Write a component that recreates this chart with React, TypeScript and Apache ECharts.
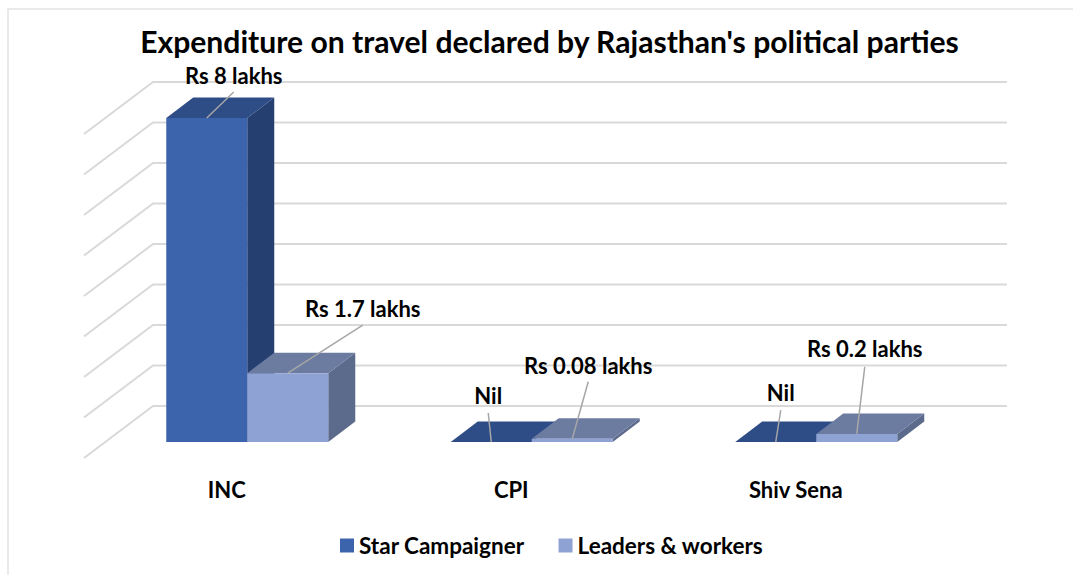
import React, { useEffect, useRef } from "react";
import * as echarts from "echarts";

const titleText = "Expenditure on travel declared by Rajasthan's political parties";
const categories = ["INC", "CPI", "Shiv Sena"];
const starCampaigner = [8, 0, 0];
const leadersWorkers = [1.7, 0.08, 0.2];
const starLabels = ["Rs 8 lakhs", "Nil", "Nil"];
const leadersLabels = ["Rs 1.7 lakhs", "Rs 0.08 lakhs", "Rs 0.2 lakhs"];
const gridTicks = [0, 1, 2, 3, 4, 5, 6, 7, 8];

// layout only
const barW = 81;
const depthX = 27;
const depthY = 20.5;
const starLeader = [[27, -26, -17], [-3, -29, -18], [5, -32, -18]];
const leadersLeader = [[75, -48, -17], [16, -57, -16], [8, -67, -18]];

const font = "Lato, Carlito, 'Open Sans', sans-serif";

function boxSeries(
  name: string,
  values: number[],
  labels: string[],
  leaders: number[][],
  side: -1 | 1,
  front: string,
  top: string,
  right: string
) {
  return {
    type: "custom",
    name,
    coordinateSystem: "cartesian2d",
    itemStyle: { color: front },
    z: 3,
    clip: false,
    data: values.map((v, i) => [i, v]),
    renderItem: (params: any, api: any) => {
      const i = api.value(0);
      const base = api.coord([i, 0]);
      const peak = api.coord([i, api.value(1)]);
      const x0 = base[0] + (side < 0 ? -barW : 0);
      const x1 = x0 + barW;
      const yb = base[1];
      const yt = peak[1];
      const children: any[] = [
        { type: "polygon", shape: { points: [[x1, yb], [x1 + depthX, yb - depthY], [x1 + depthX, yt - depthY], [x1, yt]] }, style: { fill: right } },
        { type: "polygon", shape: { points: [[x0, yt], [x0 + depthX, yt - depthY], [x1 + depthX, yt - depthY], [x1, yt]] }, style: { fill: top } },
      ];
      if (yb - yt > 0.01) {
        children.push({ type: "rect", shape: { x: x0, y: yt, width: barW, height: yb - yt }, style: { fill: front } });
      }
      const cx = (x0 + x1) / 2;
      const [dx, dy, ty] = leaders[i];
      children.push({
        type: "line",
        shape: { x1: cx, y1: yt, x2: cx + dx, y2: yt + dy },
        style: { stroke: "#A6A6A6", lineWidth: 1.5 },
      });
      children.push({
        type: "text",
        style: {
          x: cx + dx,
          y: yt + dy + ty,
          text: labels[i],
          fill: "#000000",
          font: `bold 22px ${font}`,
          align: "center",
          verticalAlign: "middle",
        },
      });
      return { type: "group", children };
    },
  };
}

export default function App() {
  const ref = useRef<HTMLDivElement>(null);
  useEffect(() => {
    const chart = echarts.init(ref.current!, undefined, { renderer: "svg" });
    chart.setOption({
      animation: false,
      backgroundColor: "#ffffff",
      graphic: [
        {
          type: "polyline",
          silent: true,
          shape: { points: [[8, 575], [8, 9], [1073, 9]] },
          style: { stroke: "#E4E4E4", lineWidth: 1.5, fill: "none" },
        },
      ],
      title: {
        text: titleText,
        left: 544.5,
        top: 21,
        textAlign: "center",
        textStyle: { fontFamily: font, fontWeight: "bold", fontSize: 30.1, color: "#000000" },
      },
      legend: {
        data: ["Star Campaigner", "Leaders & workers"],
        left: 335,
        top: 529,
        icon: "rect",
        itemWidth: 14,
        itemHeight: 14,
        itemGap: 34,
        textStyle: { fontFamily: font, fontWeight: "bold", fontSize: 22.5, color: "#000000" },
      },
      grid: { left: 105, width: 853.5, top: 118, height: 324 },
      xAxis: {
        type: "category",
        data: categories,
        axisLine: { show: false },
        axisTick: { show: false },
        axisLabel: {
          fontFamily: font,
          fontWeight: "bold",
          fontSize: 22,
          color: "#000000",
          margin: 36,
          padding: [0, 41, 0, 0],
        },
      },
      yAxis: {
        type: "value",
        min: 0,
        max: 8,
        interval: 1,
        axisLabel: { show: false },
        axisLine: { show: false },
        axisTick: { show: false },
        splitLine: { show: false },
      },
      series: [
        {
          type: "custom",
          coordinateSystem: "cartesian2d",
          silent: true,
          z: 1,
          clip: false,
          data: gridTicks.map((t) => [0, t]),
          renderItem: (params: any, api: any) => {
            const y = api.coord([0, api.value(1)])[1];
            return {
              type: "polyline",
              shape: { points: [[84, y + 16], [153, y - 36], [1007, y - 36]] },
              style: { stroke: "#D9D9D9", lineWidth: 2, fill: "none" },
            };
          },
        },
        boxSeries("Star Campaigner", starCampaigner, starLabels, starLeader, -1, "#3B64AD", "#2E4C86", "#253F70"),
        boxSeries("Leaders & workers", leadersWorkers, leadersLabels, leadersLeader, 1, "#8FA2D4", "#6C7BA0", "#5C6A8C"),
      ],
    });
    return () => chart.dispose();
  }, []);
  return <div ref={ref} style={{ position: "absolute", left: 0, top: 0, width: 1073, height: 575 }} />;
}
